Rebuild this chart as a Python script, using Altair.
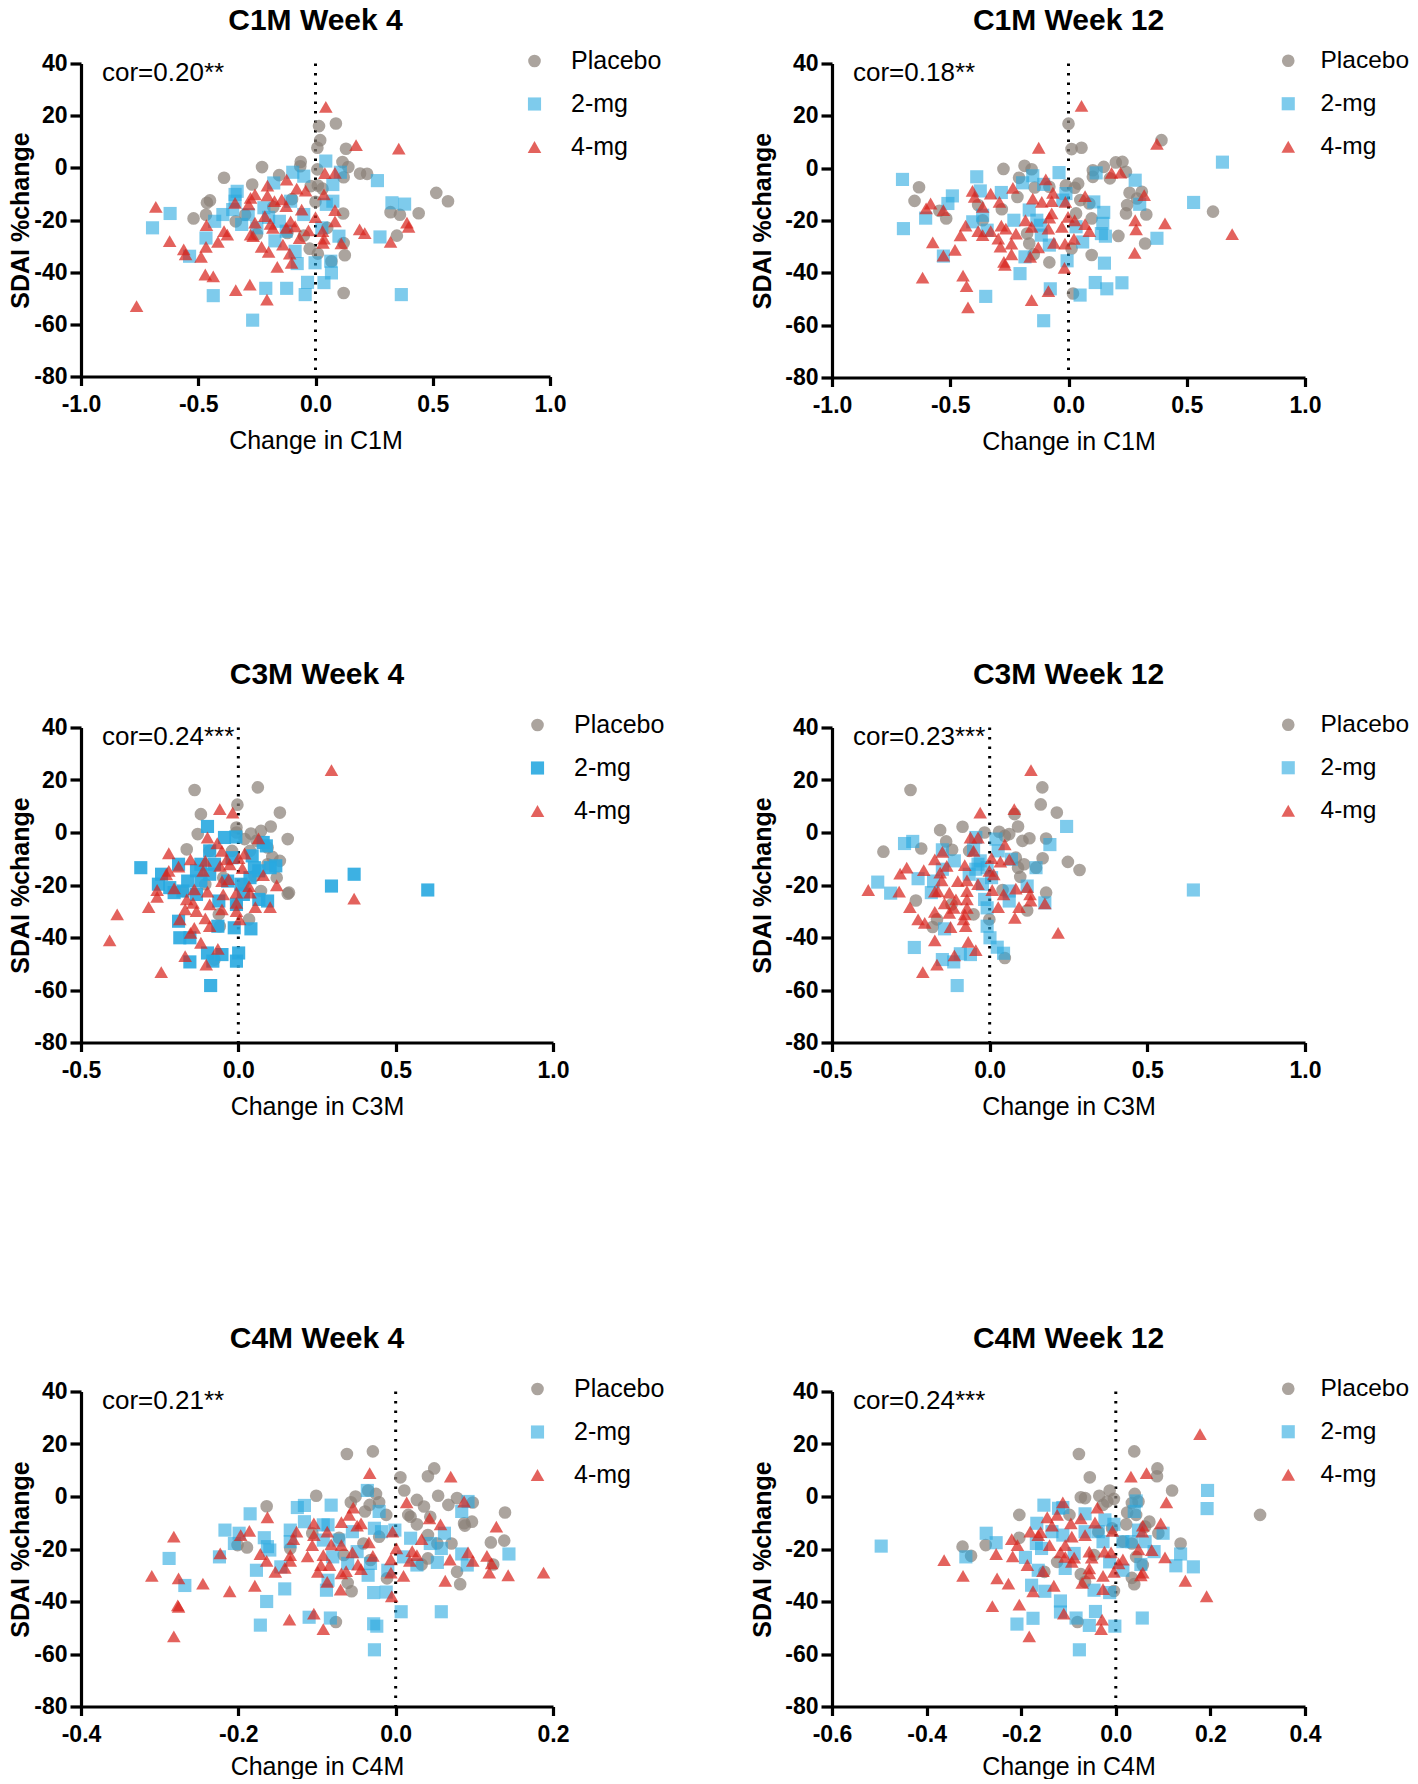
import altair as alt
import pandas as pd

GROUPS = ["Placebo", "2-mg", "4-mg"]
FONT = "Liberation Sans"

c1m_w4_placebo = [(.087,17),(.015,16),(.02,10.6),(.008,7.7),(.13,7.3),(-.063,2.3),(-.228,.3),(-.065,.6),(.115,2.2),(.14,.3),(.008,-.6),(.19,-2.2),(.22,-2.3),(-.39,-3.8),(-.155,-2.8),(.12,-3.6),(-.27,-6.4),(.01,-6.8),(-.45,-12.5),(-.463,-13.4),(.515,-9.6),(.565,-12.8),(-.467,-18),(-.52,-19.4),(-.34,-20.5),(.32,-17),(.36,-18),(.44,-17.4),(.118,-17.5),(.347,-26),(.12,-28.8),(-.025,-31),(.01,-32.9),(.125,-33.5),(.068,-35.8),(.12,-48),(-.25,-25.5),(-.1,-12),(-.05,-26),(0,-13),(.03,-8),(-.02,-7),(-.12,-25),(-.18,-15),(.05,-23),(-.3,-18)]
c1m_w4_2mg = [(.044,2.6),(-.097,-1.7),(-.05,-3.2),(.106,-1.7),(.074,-6.4),(-.178,-5.8),(.264,-4.9),(-.334,-9),(-.343,-10.2),(-.343,-12.8),(-.353,-16),(-.395,-17.9),(-.43,-20.5),(-.62,-17.5),(-.695,-23),(-.467,-26.9),(-.537,-33.9),(-.315,-21.7),(-.287,-17.9),(-.22,-15.3),(-.25,-23),(-.154,-20.5),(-.106,-12.8),(.074,-12.8),(.046,-14),(.326,-13.4),(.38,-13.9),(.275,-26.5),(.1,-26.2),(-.173,-28),(-.087,-32),(-.078,-36.7),(-.002,-36.4),(.065,-35.8),(.068,-40.3),(-.034,-43.9),(.036,-44),(-.212,-46.2),(-.123,-46.2),(-.436,-49),(-.044,-48.6),(.366,-48.6),(-.268,-58.4),(-.05,-17.9),(.027,-23),(-.2,-19),(-.125,-24.3)]
c1m_w4_4mg = [(.044,23.4),(.173,8.7),(.355,7.4),(.04,-2),(.083,-1.9),(-.123,-4.5),(-.205,-6.8),(-.08,-8),(-.042,-8.7),(.036,-10.2),(-.258,-10.2),(-.277,-11.5),(-.205,-10.6),(-.343,-13.4),(-.175,-12.8),(-.144,-12.1),(-.285,-14),(-.125,-14.7),(-.059,-16),(.083,-16.2),(-.681,-15),(-.216,-18.5),(0,-18.9),(-.106,-20.5),(-.258,-21),(.083,-20.5),(-.465,-22),(-.192,-21.5),(.39,-21),(.397,-22.6),(-.182,-23),(-.125,-23),(-.087,-22.4),(.188,-23.6),(.21,-25),(-.39,-24.3),(-.376,-25.6),(-.03,-24),(.03,-24.3),(-.277,-25.6),(-.266,-26.2),(-.068,-26.9),(.036,-27.1),(.032,-28.8),(-.622,-28.1),(-.416,-28.4),(.32,-28.4),(.11,-29),(-.139,-29.4),(-.467,-30.3),(-.23,-30.3),(-.562,-31.3),(-.2,-32.2),(-.554,-33.2),(-.11,-32.9),(-.488,-34.1),(-.102,-36.4),(-.163,-38),(-.47,-40.9),(-.436,-41.6),(-.28,-44.8),(-.34,-46.9),(-.207,-50.5),(-.763,-53)]

c1m_w12_placebo = [(0,17),(.013,7.3),(.055,7.8),(.393,10.7),(-.186,.9),(-.156,-.4),(-.275,-.3),(.2,2.2),(.228,2.4),(.149,.5),(.103,-.8),(.243,-1.4),(.175,-3.9),(.103,-3.3),(-.209,-3.7),(.041,-5.9),(-.011,-6.6),(.026,-7.5),(-.143,-7.4),(-.081,-7.1),(-.632,-7.3),(-.651,-12.5),(.258,-9.4),(.31,-9),(.29,-11.6),(.248,-14.1),(.243,-17.3),(.329,-17.7),(-.216,-11),(.05,-12.2),(.088,-13.5),(-.382,-14.1),(-.282,-15.7),(-.546,-16.3),(-.517,-19.2),(.032,-17.3),(.098,-19.2),(.611,-16.6),(.211,-25.9),(.324,-28.8),(-.363,-19.9),(-.166,-28.8),(.013,-30.7),(-.147,-32.9),(.098,-33.2),(-.081,-36),(.019,-47.9),(-.175,-25)]
c1m_w12_2mg = [(.651,2.3),(-.04,-1.7),(.117,-1.8),(-.151,-2.9),(-.388,-3.3),(-.702,-4.3),(.282,-4.6),(-.194,-5.6),(-.105,-6.2),(-.373,-8.7),(-.284,-9.3),(-.491,-10.6),(-.51,-13.5),(-.011,-9.7),(-.024,-12.2),(.107,-12.9),(.301,-13.8),(.529,-13.1),(-.166,-16),(.149,-16.9),(-.363,-18),(-.604,-19.1),(-.405,-20.5),(-.231,-19.9),(-.134,-19.9),(-.119,-21.8),(.145,-21.1),(-.698,-23.1),(-.344,-23.7),(-.115,-25.6),(.032,-22.4),(.139,-25),(.156,-26),(.374,-26.8),(.06,-28.2),(-.081,-29.4),(-.529,-33.6),(-.184,-33.9),(-.006,-35.4),(.152,-36.3),(-.205,-40.3),(.113,-43.7),(.226,-43.8),(-.077,-46.1),(.162,-46.1),(-.35,-49),(.049,-48.5),(-.105,-58.3)]
c1m_w12_4mg = [(.055,23.8),(-.126,7.8),(.374,9.3),(.182,-1.8),(.22,-1.7),(-.096,-4.3),(-.235,-7.5),(-.406,-8.7),(-.329,-9.7),(-.397,-11),(-.066,-9.4),(-.151,-11.6),(.07,-10.7),(.32,-10.3),(-.583,-13.5),(-.292,-12.9),(-.113,-12.9),(-.071,-12.6),(-.013,-12.9),(-.363,-14.8),(-.602,-15.4),(-.529,-16),(-.071,-17.3),(-.002,-18.6),(-.182,-19.9),(-.081,-18.9),(.026,-19.9),(.282,-19.9),(.408,-21.1),(.07,-21.4),(-.435,-22),(-.284,-22),(-.156,-22.4),(-.028,-22.4),(-.382,-24.1),(-.363,-25.6),(-.329,-24.1),(-.265,-23.1),(-.085,-23.1),(.286,-23.4),(.088,-24.1),(.692,-25.2),(-.457,-25.7),(-.222,-25),(.023,-27),(-.297,-26.9),(-.574,-28.4),(-.062,-28.5),(-.241,-28.8),(-.288,-30),(-.128,-30.3),(-.48,-31.2),(-.015,-28.8),(-.241,-32.9),(.28,-32.4),(-.529,-33.4),(-.162,-33.9),(-.273,-35.8),(-.269,-37),(-.017,-38.1),(-.617,-41.8),(-.446,-41.1),(-.431,-45.1),(-.085,-47),(-.156,-50.4),(-.425,-53.2)]

c3m_w4_placebo = [(-.139,16.2),(.062,17.2),(-.003,10.6),(.132,7.6),(-.119,7),(.103,2.3),(-.006,1.9),(.072,.6),(.04,-.4),(-.129,-.6),(-.006,0),(.157,-2.5),(.02,-2.5),(.058,-3.2),(.093,-5.7),(-.164,-6.4),(.108,-9.3),(.132,-10.8),(.093,-12.1),(.157,-23.3),(.161,-22.9),(.051,-16.6),(.072,-22.3),(-.062,-31.2),(.034,-33.1),(-.059,-35.7),(-.076,-48.4),(-.02,-7),(-.091,-7),(.037,-7),(-.105,-19.7),(-.048,-17.2),(.016,-19.7),(.122,-17.2),(-.176,-22.3),(-.006,-27.4)]
c3m_w4_2mg = [(-.098,2.3),(-.044,-1.9),(-.008,-1.7),(.079,-3.8),(.089,-5.1),(-.091,-7),(.044,-8.9),(-.31,-13.4),(-.244,-15.9),(-.19,-12.1),(.119,-12.7),(.101,-13.4),(.051,-13.4),(.368,-15.9),(-.133,-14.6),(-.076,-12.1),(-.254,-19.7),(-.218,-21),(-.204,-22.9),(-.161,-18.5),(-.176,-22.3),(-.119,-18.5),(-.091,-15.9),(-.034,-18.5),(.008,-19.7),(.296,-20.4),(.602,-21.9),(.093,-26.1),(.065,-25.5),(-.006,-27.4),(-.062,-26.1),(-.133,-23.6),(-.19,-33.8),(-.065,-35.7),(-.013,-36.3),(.04,-36.7),(-.186,-40.1),(-.154,-40.1),(-.098,-45.9),(-.052,-46.5),(.001,-45.9),(-.006,-49),(-.154,-49.3),(-.081,-49),(-.088,-58.3),(.037,-17.2),(.065,-14.6),(-.02,-9.6),(-.119,-12.1),(.016,-23.6)]
c3m_w4_4mg = [(.296,23.8),(-.059,8.9),(-.018,7.6),(-.098,-1.9),(.064,-2.2),(-.067,-4.1),(-.052,-7),(-.221,-7.9),(.02,-8),(-.152,-10.2),(-.105,-10.8),(-.037,-10.2),(.001,-9.8),(-.19,-13),(-.058,-12.7),(-.027,-12.1),(.013,-13.6),(-.221,-14.6),(-.112,-14.6),(-.229,-15.9),(.079,-16.2),(-.031,-17.8),(-.052,-18.5),(.122,-20.1),(.034,-20.4),(-.204,-21.3),(-.258,-21.9),(-.14,-21.7),(-.098,-22.5),(-.048,-23.6),(-.006,-22.9),(.037,-22.9),(-.258,-24.5),(-.164,-25.5),(-.144,-26.8),(.368,-25.2),(-.091,-27.4),(-.006,-26.8),(-.169,-29.3),(-.133,-29.9),(-.285,-28.4),(.054,-28.4),(.101,-28.4),(-.052,-29.3),(-.006,-29.9),(-.385,-31.2),(-.105,-32.7),(-.186,-33.1),(.004,-33.1),(-.091,-35.7),(-.14,-36.3),(-.152,-38.2),(-.409,-41.1),(-.119,-42),(-.065,-44.3),(-.169,-47.1),(-.102,-50.3),(-.245,-53.2)]

c3m_w12_placebo = [(-.251,16.2),(.167,17.2),(.162,10.7),(.213,7.6),(.079,7),(-.086,2.2),(-.157,.9),(-.016,0),(.03,.3),(.09,2.3),(.062,-.6),(.048,-1.3),(.126,-2.2),(.104,-3.2),(.179,-2.3),(-.138,-3.4),(-.217,-6.1),(-.337,-7.3),(-.119,-6.6),(.168,-9.8),(.248,-11.2),(.285,-14.3),(.083,-9.6),(.109,-12.1),(.09,-13.4),(.097,-16.9),(.179,-22.9),(.041,-21.9),(-.234,-25.9),(.119,-29.7),(-.051,-31.2),(-.167,-33.1),(-.181,-36),(-.001,-33.1),(.048,-47.8),(-.121,-27.4),(-.065,-7),(.147,-13.4)]
c3m_w12_2mg = [(.244,2.3),(-.27,-4.2),(-.244,-3.4),(.191,-4.6),(.02,-2.5),(-.044,-1.9),(-.15,-6.6),(-.051,-6.4),(.027,-7),(-.112,-10.8),(.069,-10.2),(-.037,-12.1),(-.044,-14),(-.008,-13.4),(.147,-13.4),(-.227,-17.6),(-.355,-18.9),(-.178,-18.5),(-.314,-23.1),(-.185,-22.9),(-.023,-19.7),(.646,-21.9),(.062,-22.3),(-.016,-25.5),(.062,-26.1),(.175,-26.8),(-.008,-28.7),(-.008,-35.7),(-.143,-36.7),(.001,-40.1),(-.239,-43.8),(.024,-43.7),(.044,-46),(-.15,-48.4),(-.114,-49.3),(-.093,-46.2),(-.061,-46.5),(-.103,-58.3),(-.15,-14),(-.065,-15.9),(-.03,-10.8),(.006,-17.2),(.119,-20.4)]
c3m_w12_4mg = [(.131,23.8),(-.03,7.6),(.078,8.9),(-.061,-1.9),(-.037,-1.9),(.048,-4.5),(-.051,-7),(-.15,-7.4),(-.174,-10.2),(.006,-9.8),(.062,-10.2),(-.263,-13.4),(-.136,-12.7),(.034,-11.1),(-.209,-14.3),(-.079,-12.4),(-.001,-14.6),(-.284,-15.7),(-.157,-15.3),(.013,-15.9),(-.101,-18.5),(-.072,-18.2),(-.037,-19.7),(-.152,-18.2),(-.385,-21.9),(-.287,-22.5),(-.174,-22.5),(-.164,-22.3),(-.128,-22.9),(-.072,-22.3),(.008,-21.9),(.119,-20.8),(.083,-21.4),(.128,-23.6),(.044,-23.6),(-.107,-25.5),(-.072,-25.5),(.13,-25.9),(.175,-27),(-.143,-27),(-.253,-28.4),(.093,-28.4),(-.114,-28.7),(-.072,-28.7),(.027,-28.4),(-.174,-30.2),(-.128,-30.6),(-.079,-31.2),(-.227,-33.1),(-.206,-34.4),(.08,-32.5),(-.083,-33.1),(-.124,-36),(-.076,-35.7),(.217,-38.2),(-.174,-41.1),(-.068,-41.7),(-.044,-44.8),(-.112,-46.8),(-.167,-50.3),(-.212,-53.2)]

c4m_w4_placebo = [(-.062,16.2),(-.029,17.2),(.049,10.7),(.041,7.7),(.006,7.3),(.011,2.3),(-.101,.3),(-.035,2.3),(-.025,1),(-.051,0),(.054,.3),(.027,-1.3),(-.057,-2.2),(-.021,-2.2),(.078,-.6),(.067,-3.2),(.098,-2.3),(-.164,-3.7),(.036,-3.8),(-.033,-3.2),(.139,-6.1),(-.039,-5.7),(-.012,-7),(.016,-7),(.019,-7.7),(.044,-7.7),(.027,-10.6),(.087,-10.2),(.097,-9.6),(.088,-11.1),(-.106,-14),(-.072,-15.7),(-.021,-15.3),(.041,-14.7),(.138,-16.8),(.121,-17.5),(-.201,-18.5),(-.189,-19.4),(-.134,-19.8),(-.041,-17.9),(.053,-17.9),(.071,-17.9),(-.066,-22.3),(-.032,-24.2),(.041,-23.6),(.033,-25.9),(.124,-25.9),(.078,-28.7),(-.011,-31.2),(-.061,-32.9),(.082,-33.4),(-.056,-36.1),(-.076,-47.8)]
c4m_w4_2mg = [(-.036,2.3),(-.185,-6.6),(-.125,-4.2),(-.116,-3.4),(-.082,-3.3),(-.021,-5.7),(.092,-1.9),(.084,-5.7),(-.116,-9.6),(-.092,-10.8),(-.086,-10.8),(-.217,-12.8),(-.134,-12.8),(-.027,-12.1),(-.018,-13.4),(-.001,-12.8),(-.055,-13.4),(.062,-14),(-.167,-15.7),(-.199,-14),(-.205,-17.9),(-.134,-17.2),(-.163,-19.1),(-.16,-20.4),(-.072,-16.6),(-.092,-16.6),(.019,-15.9),(.044,-17.9),(.058,-19.8),(-.224,-23),(-.288,-23.6),(-.049,-21),(-.08,-23),(.084,-21.9),(.144,-21.9),(.01,-23),(-.061,-25.5),(-.032,-25.5),(.027,-26.1),(.053,-25.1),(.091,-26.1),(-.177,-28.1),(-.146,-26.8),(-.01,-28.1),(-.035,-30),(-.086,-31.9),(-.268,-33.9),(-.141,-35.2),(-.088,-35.7),(-.028,-36.6),(-.012,-36.4),(-.164,-40),(.007,-43.9),(.058,-43.9),(-.11,-46),(-.083,-46.3),(-.172,-49),(-.028,-48.5),(-.024,-49.4),(-.027,-58.4)]
c4m_w4_4mg = [(-.033,8.9),(.07,7.6),(.014,-2.2),(.087,-1.9),(-.054,-4.2),(-.059,-7),(-.163,-7.9),(.043,-8.3),(-.069,-9.8),(-.104,-10.2),(-.044,-10.2),(.057,-10.6),(.128,-11.5),(-.049,-11.1),(-.186,-13.1),(-.126,-13.4),(-.087,-13.4),(-.004,-13.4),(-.197,-14.7),(-.104,-14.7),(-.282,-15.3),(.033,-16.2),(-.13,-16.2),(-.106,-18.5),(-.034,-17.5),(-.082,-18.2),(-.069,-18.5),(.001,-19.8),(-.055,-21.3),(-.223,-21.7),(-.172,-21.9),(-.134,-22.3),(-.092,-22.3),(-.029,-22.6),(.021,-20.8),(.027,-22.3),(.092,-21.3),(-.112,-22.8),(.116,-22.6),(-.164,-24.5),(-.134,-24.5),(-.006,-23.9),(.018,-24.5),(.069,-24),(.098,-24.5),(-.084,-26.1),(-.095,-26.1),(-.141,-27.2),(-.048,-25.9),(.122,-25.5),(-.044,-27.7),(-.063,-28.4),(-.099,-28.7),(-.069,-29.3),(-.153,-28.7),(-.006,-29),(.119,-29),(.188,-29),(.01,-30.2),(-.31,-30.2),(.143,-30),(-.276,-31.2),(-.087,-32.5),(.063,-32.1),(-.245,-33.2),(-.179,-34),(-.07,-35.5),(-.211,-36.1),(-.005,-38),(-.277,-41.5),(-.276,-42),(-.135,-46.9),(-.104,-44.6),(-.092,-50.5),(-.282,-53.3)]

c4m_w12_placebo = [(-.078,16.2),(.039,17.2),(.088,10.7),(.087,7.7),(-.055,7.3),(.119,2.3),(-.013,2.3),(.04,1),(-.074,-.3),(-.065,-.6),(-.035,.3),(-.004,-.9),(-.018,-1.9),(-.027,-3.2),(.048,-1.9),(.034,-2.5),(.024,-6.1),(.043,-7),(-.204,-7),(.305,-7),(-.098,-7),(.071,-9.6),(.022,-10.6),(.062,-11.5),(.09,-14),(-.008,-12.1),(-.037,-13.4),(-.204,-15.7),(-.324,-19.1),(-.275,-18.5),(.137,-17.9),(.034,-17.9),(.015,-17.2),(-.306,-22.6),(.043,-23),(-.124,-24.9),(-.151,-28.7),(.057,-26.1),(-.074,-29.6),(.034,-31),(-.065,-32.5),(.039,-33.4),(-.004,-36),(-.081,-47.8),(-.046,-22.3)]
c4m_w12_2mg = [(.194,2.3),(.043,-1.7),(.193,-4.6),(-.152,-3.3),(-.112,-4.2),(-.121,-4.5),(.039,-5.7),(-.065,-6.6),(-.023,-8.9),(-.004,-10.6),(-.167,-10.2),(.048,-12.8),(.1,-14),(-.274,-14),(-.253,-17.6),(-.135,-13.4),(-.112,-14.7),(-.065,-13.4),(-.037,-13.4),(-.168,-17.9),(-.157,-19.8),(-.027,-17.2),(.015,-17.2),(.034,-17.2),(.062,-17.2),(.081,-21),(-.496,-18.9),(-.317,-23),(-.191,-23.2),(-.088,-21.7),(.137,-21.9),(-.013,-24.9),(.053,-25.9),(.164,-26.8),(.127,-26.4),(-.107,-27.4),(-.164,-28.1),(.015,-28.1),(-.178,-33.8),(-.15,-36.1),(-.046,-35.7),(-.013,-36.6),(-.117,-39.8),(-.117,-44),(-.043,-43.8),(.056,-46.3),(-.175,-46.4),(-.084,-46.3),(-.209,-48.6),(-.056,-49.1),(-.002,-49.4),(-.077,-58.4)]
c4m_w12_4mg = [(.178,23.8),(.065,8.9),(.032,7.6),(-.112,-2.2),(.107,-2.2),(-.039,-4.2),(-.124,-7),(-.145,-7.9),(-.074,-8.3),(-.095,-10.2),(-.044,-9.9),(.095,-10.2),(-.135,-11.1),(.057,-11.1),(-.007,-13.1),(-.181,-13.4),(-.159,-13.6),(.056,-13.4),(-.164,-14.7),(-.22,-16.2),(-.093,-15.3),(-.065,-14.7),(-.208,-18.5),(-.14,-18.5),(-.107,-18.5),(.048,-20.1),(.076,-20.4),(-.253,-21.9),(-.117,-21.3),(-.056,-21),(-.01,-21.3),(-.024,-21),(-.218,-22.8),(-.107,-23),(-.088,-23.3),(-.051,-23.3),(.104,-23.2),(.015,-24),(-.363,-24.2),(-.093,-24.9),(-.187,-26.1),(.006,-25.5),(-.056,-27.4),(-.154,-28.4),(-.004,-28.7),(.057,-29),(-.056,-29.3),(.053,-30),(-.027,-30.2),(-.323,-30.2),(-.251,-31.2),(.147,-32.1),(-.071,-32.9),(-.227,-33.2),(-.131,-34),(-.027,-35.3),(-.175,-36.1),(.192,-38),(-.204,-41.2),(-.261,-41.8),(-.11,-44.6),(-.029,-46.9),(-.031,-50.5),(-.183,-53.3)]

Y_TICKS = [40, 20, 0, -20, -40, -60, -80]


def panel(title, xlabel, cor, series, xdom, xticks, w, h, ylab_x, title_off, leg_x, blue_a=0.6, xtitle_y=72,
          leg_font=25, leg_offset=24, leg_row=17):
    df = pd.DataFrame(
        [{"x": a, "y": b, "group": g} for g, pts in zip(GROUPS, series) for a, b in pts]
    )
    one = pd.DataFrame({"label": [cor]})
    colors = ["rgba(139,129,120,0.72)", f"rgba(40,169,224,{blue_a})", "rgba(216,38,31,0.72)"]
    xs = alt.Scale(domain=xdom, nice=False, zero=False)
    ys = alt.Scale(domain=[-80, 40], nice=False, zero=False)
    legend = alt.Legend(
        orient="none", legendX=leg_x, legendY=-15, title=None, labelFont=FONT, labelFontSize=leg_font,
        labelColor="black", symbolSize=185, rowPadding=leg_row, labelOffset=leg_offset, padding=0,
        symbolStrokeWidth=0, labelLimit=200,
    )
    xaxis = alt.Axis(
        values=xticks, title=xlabel, grid=False, domainColor="black", domainWidth=3.2, tickColor="black",
        tickWidth=3.2, tickSize=9, labelFont=FONT, labelFontWeight="bold", labelFontSize=23, labelColor="black",
        labelPadding=8, labelExpr="(datum.value<0?'-':'')+format(abs(datum.value),'.1f')", labelFlush=False,
        labelOverlap=False, titleFont=FONT, titleFontWeight="normal", titleFontSize=25, titleColor="black",
        titleY=xtitle_y, titleBaseline="alphabetic",
    )
    yaxis = alt.Axis(
        values=Y_TICKS, title="SDAI %change", grid=False, domainColor="black", domainWidth=3.2, tickColor="black",
        tickWidth=3.2, tickSize=11, labelFont=FONT, labelFontWeight="bold", labelFontSize=23, labelColor="black",
        labelPadding=3, labelExpr="(datum.value<0?'-':'')+format(abs(datum.value),'d')", labelOverlap=False,
        titleFont=FONT, titleFontWeight="bold", titleFontSize=25, titleColor="black", titleX=ylab_x,
        titleBaseline="alphabetic", titleAngle=270,
    )
    rule = alt.Chart(one).mark_rule(color="black", strokeWidth=3, strokeDash=[2.5, 7]).encode(
        x=alt.datum(0, scale=xs, axis=xaxis), y=alt.datum(40, scale=ys, axis=yaxis), y2=alt.datum(-80)
    )
    pts = alt.Chart(df).mark_point(filled=True, strokeWidth=0, opacity=1).encode(
        x=alt.X("x:Q", scale=xs, axis=xaxis),
        y=alt.Y("y:Q", scale=ys, axis=yaxis),
        color=alt.Color("group:N", scale=alt.Scale(domain=GROUPS, range=colors), legend=legend),
        shape=alt.Shape("group:N", scale=alt.Scale(domain=GROUPS, range=["circle", "square", "triangle-up"]), legend=legend),
        size=alt.Size("group:N", scale=alt.Scale(domain=GROUPS, range=[160, 185, 225]), legend=None),
    )
    note = alt.Chart(one).mark_text(
        font=FONT, fontSize=26, color="black", align="left", baseline="alphabetic"
    ).encode(text="label:N", x=alt.value(21), y=alt.value(17))
    return alt.layer(rule, pts, note).properties(
        width=w, height=h,
        title=alt.TitleParams(title, font=FONT, fontSize=30, fontWeight="bold", color="black", anchor="middle", offset=title_off),
    )


RES = dict(color="independent", shape="independent", size="independent")
COL2 = dict(leg_font=24.5, leg_offset=20, leg_row=18)

rows = [
    alt.hconcat(
        panel("C1M Week 4", "Change in C1M", "cor=0.20**", (c1m_w4_placebo, c1m_w4_2mg, c1m_w4_4mg), [-1, 1], [-1, -.5, 0, .5, 1], 469, 313, -53, 13, 441),
        panel("C1M Week 12", "Change in C1M", "cor=0.18**", (c1m_w12_placebo, c1m_w12_2mg, c1m_w12_4mg), [-1, 1], [-1, -.5, 0, .5, 1], 473, 314, -62, 13, 444, **COL2),
        spacing=282, bounds="flush",
    ).resolve_scale(**RES),
    alt.hconcat(
        panel("C3M Week 4", "Change in C3M", "cor=0.24***", (c3m_w4_placebo, c3m_w4_2mg, c3m_w4_4mg), [-.5, 1], [-.5, 0, .5, 1], 472, 315, -53, 23, 444, blue_a=0.9),
        panel("C3M Week 12", "Change in C3M", "cor=0.23***", (c3m_w12_placebo, c3m_w12_2mg, c3m_w12_4mg), [-.5, 1], [-.5, 0, .5, 1], 473, 315, -62, 23, 444, **COL2),
        spacing=279, bounds="flush",
    ).resolve_scale(**RES),
    alt.hconcat(
        panel("C4M Week 4", "Change in C4M", "cor=0.21**", (c4m_w4_placebo, c4m_w4_2mg, c4m_w4_4mg), [-.4, .2], [-.4, -.2, 0, .2], 472, 315, -53, 23, 444, xtitle_y=68),
        panel("C4M Week 12", "Change in C4M", "cor=0.24***", (c4m_w12_placebo, c4m_w12_2mg, c4m_w12_4mg), [-.6, .4], [-.6, -.4, -.2, 0, .2, .4], 473, 315, -62, 23, 444, xtitle_y=68, **COL2),
        spacing=279, bounds="flush",
    ).resolve_scale(**RES),
]

chart = alt.vconcat(*rows, spacing=664, bounds="flush").properties(
    padding={"left": 0, "top": -2.5, "right": -1, "bottom": -1}, background="white"
).resolve_scale(x="independent", y="independent", **RES).configure_view(stroke=None)

chart.save("out.html", embed_options={"renderer": "svg", "actions": False})
